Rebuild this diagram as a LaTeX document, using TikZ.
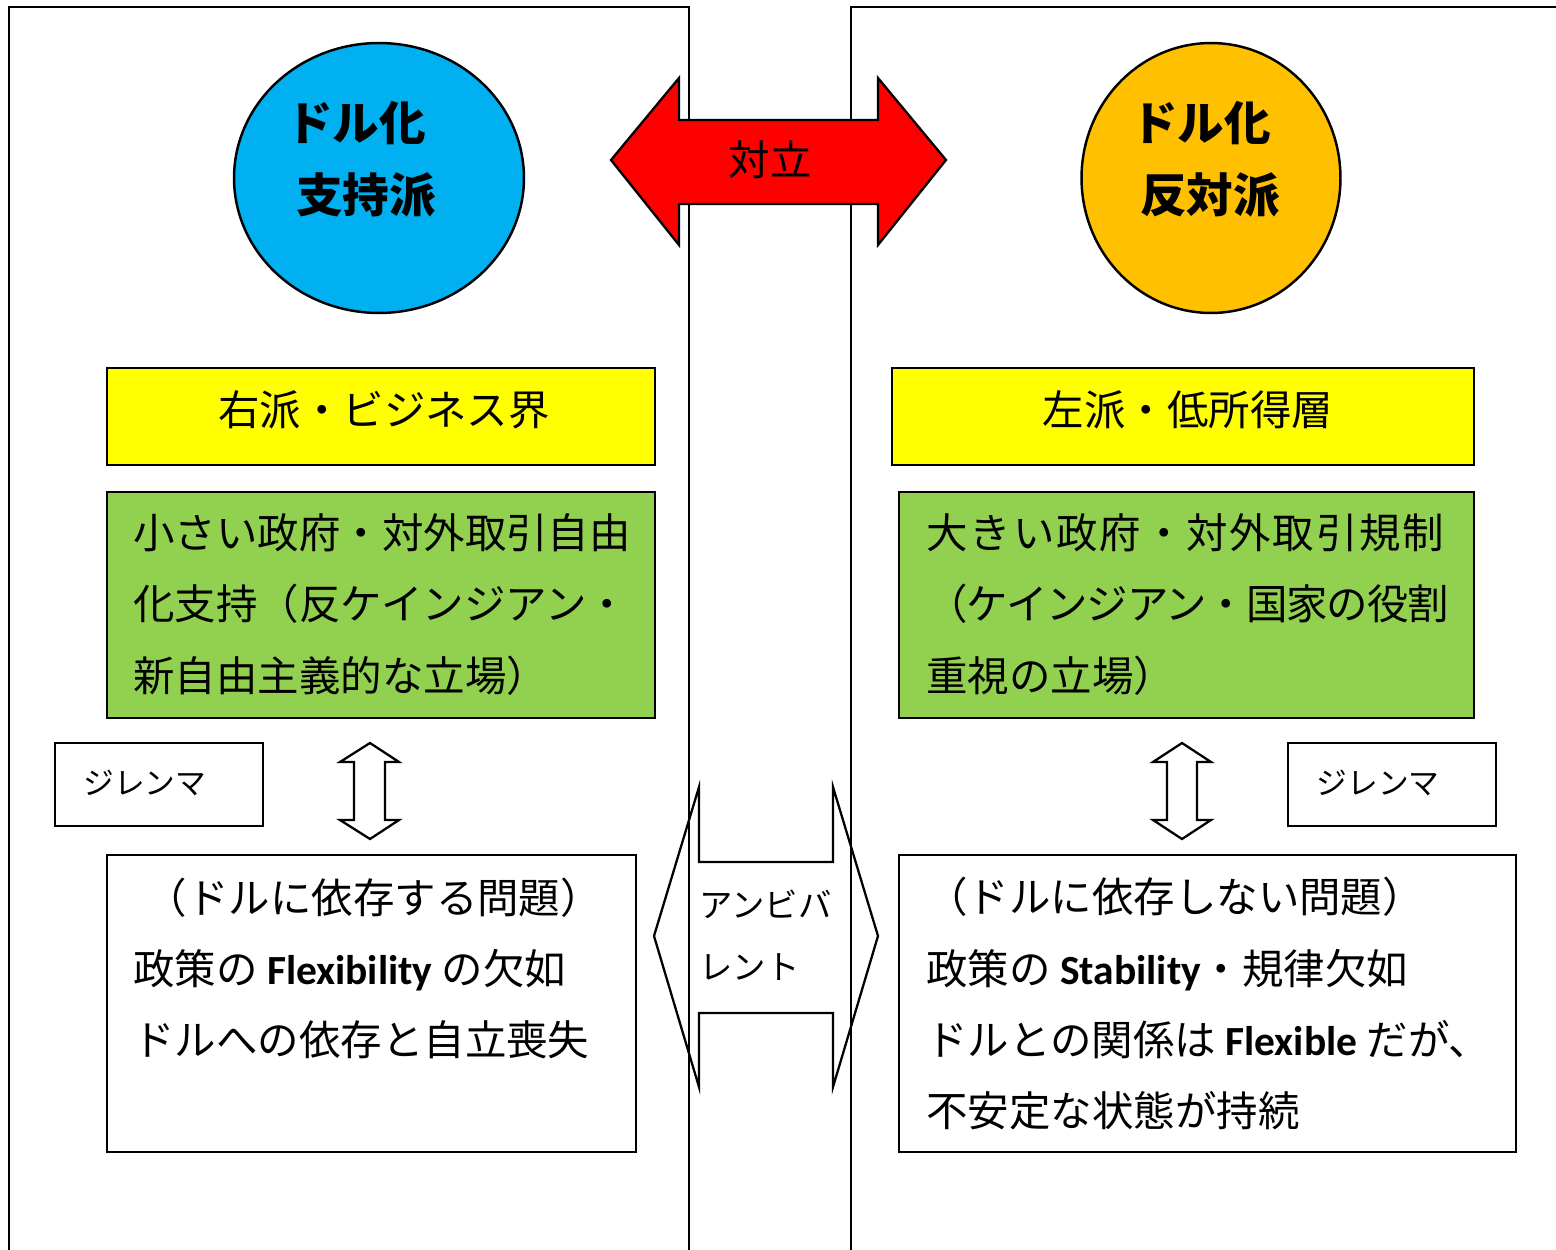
\documentclass[tikz,border=0pt]{standalone}
\usepackage{fontspec}
\setmainfont{Noto Sans CJK JP}
\newfontfamily\lat{Carlito}
\usetikzlibrary{shapes.geometric}
\definecolor{cblue}{HTML}{00B0F0}
\definecolor{corange}{HTML}{FFC000}
\definecolor{cyellow}{HTML}{FFFF00}
\definecolor{cgreen}{HTML}{92D050}
\tikzset{
  panel/.style={line width=1.1pt},
  bx/.style={draw, line width=1.3pt, rectangle, inner sep=0pt},
  blob/.style={draw, line width=1.4pt, ellipse, inner sep=0pt},
  main/.style={font=\fontsize{23.6}{40.6}\selectfont, inner sep=0pt},
  small/.style={font=\fontsize{17.5}{34}\selectfont, inner sep=0pt},
  amb/.style={font=\fontsize{19}{35}\selectfont, inner sep=0pt},
  big/.style={font=\fontsize{26.5}{30}\selectfont\bfseries, inner sep=0pt},
  shapeline/.style={line width=1.3pt, line join=miter},
}
\begin{document}
\begin{tikzpicture}[x=0.02cm,y=-0.02cm]
\useasboundingbox (0,0) rectangle (1556,1250);
% panels
\draw[panel] (9,1250) -- (9,7) -- (689,7) -- (689,1250);
\draw[panel] (851,1250) -- (851,7) -- (1556,7);

% circles
\node[blob, fill=cblue, minimum width=5.8cm, minimum height=5.4cm] (pro) at (379,178) {};
\node[big] (prot1) at (356,123) {ドル化};
\node[big] (prot2) at (366,195) {支持派};
\node[blob, fill=corange, minimum width=5.18cm, minimum height=5.4cm] (con) at (1211,178) {};
\node[big] (cont1) at (1201,123) {ドル化};
\node[big] (cont2) at (1210,195) {反対派};

% red double arrow
\draw[shapeline, fill=red] (611,160) -- (679,78) -- (679,120) -- (878,120) -- (878,78)
  -- (946,160) -- (878,245) -- (878,204) -- (679,204) -- (679,245) -- cycle;
\node[main] (taiku) at (770,160) {対立};

% yellow boxes
\node[bx, fill=cyellow, minimum width=10.96cm, minimum height=1.94cm] (yl) at (381,416.5) {};
\node[main] (ylt) at (384,410) {右派・ビジネス界};
\node[bx, fill=cyellow, minimum width=11.64cm, minimum height=1.94cm] (yr) at (1183,416.5) {};
\node[main] (yrt) at (1188,410) {左派・低所得層};

% green boxes
\node[bx, fill=cgreen, minimum width=10.96cm, minimum height=4.52cm] (gl) at (381,605) {};
\node[main, anchor=west, align=left] (glt) at (133,604.5)
  {小さい政府・対外取引自由\\化支持（反ケインジアン・\\新自由主義的な立場）};
\node[bx, fill=cgreen, minimum width=11.5cm, minimum height=4.52cm] (gr) at (1186.5,605) {};
\node[main, anchor=west, align=left] (grt) at (926,604.5)
  {{\addfontfeature{LetterSpace=4.5}大きい政府・対外取引規制}\\{\addfontfeature{LetterSpace=-2.8}（ケインジアン・国家の役割}\\重視の立場）};

% dilemma boxes
\node[bx, minimum width=4.16cm, minimum height=1.66cm] (dl) at (159,784.5) {};
\node[small] (dlt) at (145,783) {ジレンマ};
\node[bx, minimum width=4.16cm, minimum height=1.66cm] (dr) at (1392,784.5) {};
\node[small] (drt) at (1378,783) {ジレンマ};

% up-down arrows
\draw[shapeline] (370,743) -- (399,762) -- (385,762) -- (385,820) -- (399,820) -- (370,839)
  -- (340,820) -- (354,820) -- (354,762) -- (340,762) -- cycle;
\draw[shapeline] (1182,743) -- (1211,762) -- (1197,762) -- (1197,820) -- (1211,820) -- (1182,839)
  -- (1153,820) -- (1167,820) -- (1167,762) -- (1153,762) -- cycle;

% bottom boxes
\node[bx, minimum width=10.58cm, minimum height=5.94cm] (bl) at (371.5,1003.5) {};
\node[main, anchor=west, align=left] (blt) at (133,968.5)
  {\hspace{0.3em}（ドルに依存する問題）\\政策の {\lat\bfseries Flexibility} の欠如\\ドルへの依存と自立喪失};
\node[bx, minimum width=12.34cm, minimum height=5.94cm] (br) at (1207.5,1003.5) {};
\node[main, anchor=west, align=left] (brt) at (926,1004)
  {（ドルに依存しない問題）\\政策の {\lat\bfseries Stability}・規律欠如\\ドルとの関係は {\lat\bfseries Flexible} だが、\\不安定な状態が持続};

% ambivalence shape
\draw[shapeline] (654,936) -- (699,787) -- (699,862) -- (833,862) -- (833,787) -- (878,936)
  -- (833,1087) -- (833,1013) -- (699,1013) -- (699,1087) -- cycle;
\node[amb, anchor=west, align=left] (ambt) at (699,935) {アンビバ\\レント};
\end{tikzpicture}
\end{document}
